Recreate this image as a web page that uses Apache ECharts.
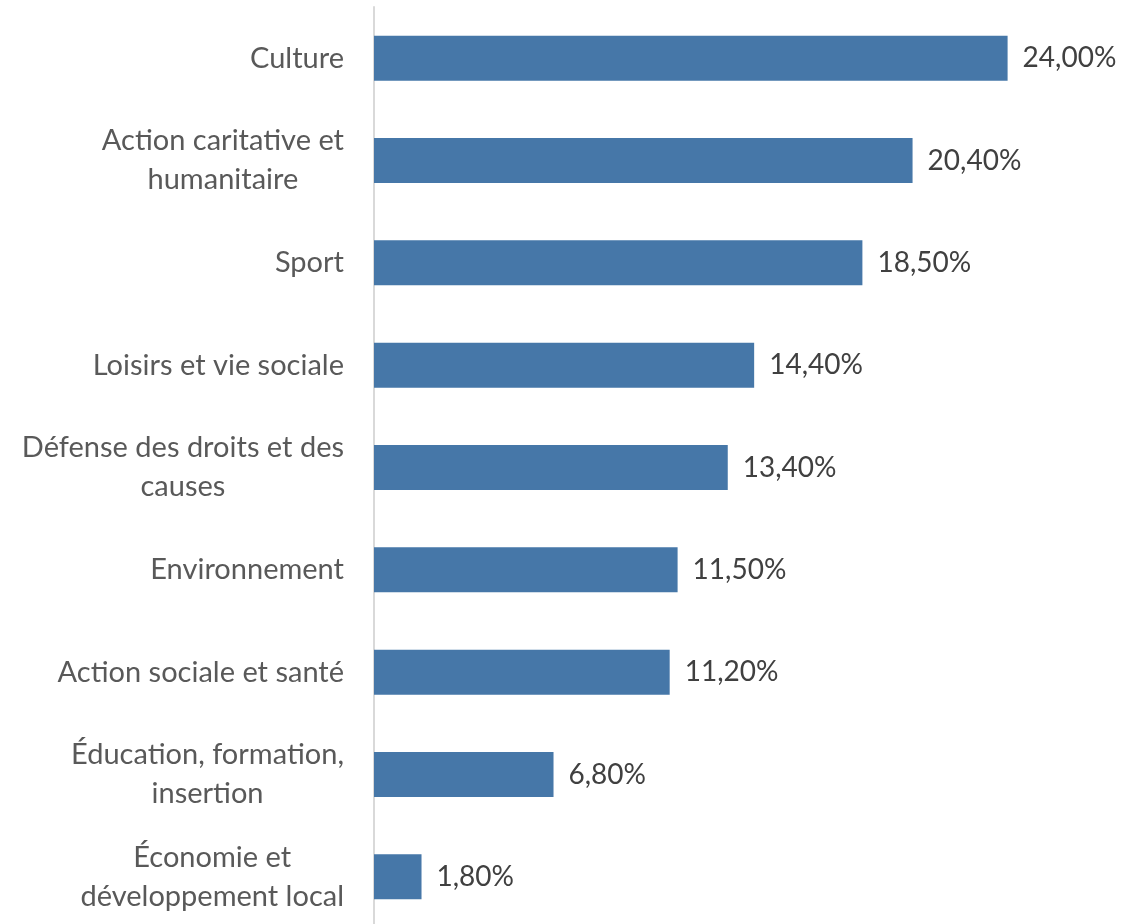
<!DOCTYPE html>
<html>
<head>
<meta charset="utf-8">
<script src="https://cdn.jsdelivr.net/npm/echarts@6/dist/echarts.min.js"></script>
<style>
  html, body { margin: 0; padding: 0; background: #fff; }
  #chart { width: 1121px; height: 924px; }
</style>
</head>
<body>
<div id="chart"></div>
<script>
// catégories, de haut en bas
const categories = [
  'Culture',
  'Action caritative et\nhumanitaire',
  'Sport',
  'Loisirs et vie sociale',
  'Défense des droits et des\ncauses',
  'Environnement',
  'Action sociale et santé',
  'Éducation, formation,\ninsertion',
  'Économie et\ndéveloppement local'
]
const values = [24.0, 20.4, 18.5, 14.4, 13.4, 11.5, 11.2, 6.8, 1.8]

const fontFamily = 'Lato, "Open Sans", sans-serif'

const option = {
  animation: false,
  grid: {
    top: 7,
    height: 921,
    left: 374,
    right: 87,
    outerBoundsMode: 'none'
  },
  xAxis: {
    type: 'value',
    min: 0,
    max: 25,
    show: false
  },
  yAxis: {
    type: 'category',
    inverse: true,
    data: categories,
    axisLine: { show: true, lineStyle: { color: '#d9d9d9', width: 2 } },
    axisTick: { show: false },
    splitLine: { show: false },
    axisLabel: {
      margin: 30,
      align: 'right',
      lineHeight: 39,
      fontSize: 29,
      color: '#595959',
      fontFamily,
      formatter: (v) => v.split('\n').map(l => '{c|' + l + '}').join('\n'),
      rich: {
        c: { align: 'center', fontSize: 29, lineHeight: 39, color: '#595959', fontFamily }
      }
    }
  },
  series: [{
    type: 'bar',
    data: values,
    barWidth: 45,
    itemStyle: { color: '#4677a8' },
    label: {
      show: true,
      position: 'right',
      distance: 15,
      fontSize: 28,
      color: '#404040',
      fontFamily,
      formatter: (p) => p.value.toFixed(2).replace('.', ',') + '%'
    }
  }]
}

const myChart = echarts.init(document.getElementById('chart'))
myChart.setOption(option)
</script>
</body>
</html>
